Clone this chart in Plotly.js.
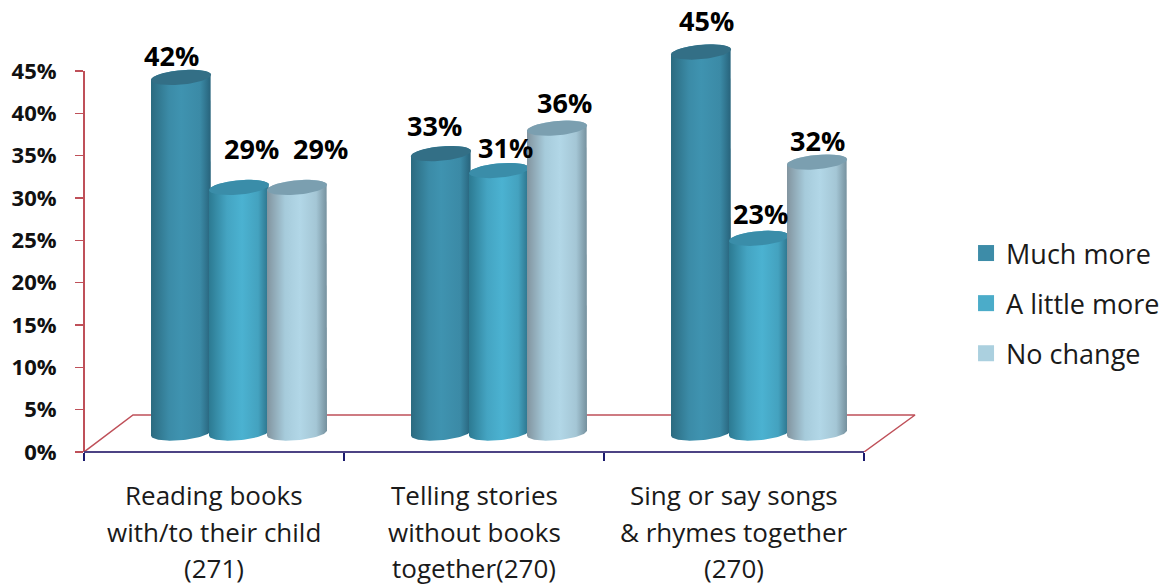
<!DOCTYPE html>
<html>
<head>
<meta charset="utf-8">
<script src="https://cdn.plot.ly/plotly-3.0.1.min.js"></script>
<style>html,body{margin:0;padding:0;background:#fff}</style>
</head>
<body>
<div id="chart" style="width:1171px;height:585px"></div>
<script>
// Reported change in shared literacy activities, by activity.
const categoryLines = [
  ["Reading books", "with/to their child", "(271)"],
  ["Telling stories", "without books", "together(270)"],
  ["Sing or say songs", "& rhymes together", "(270)"]
];
const seriesNames = ["Much more", "A little more", "No change"];
const muchMore = [42, 33, 45];
const aLittleMore = [29, 31, 23];
const noChange = [29, 36, 32];
const yTicks = [0, 5, 10, 15, 20, 25, 30, 35, 40, 45];

// Per-label nudges in pixels: the value labels sit by hand around the columns.
const labelNudgeX = [[-10, -7, 5], [12, 6, 1], [23, 7, 0]];
const labelNudgeY = [[21, 27, 31], [38, 22, 24], [38, 25, 21]];

const allSeries = [muchMore, aLittleMore, noChange];
const PX_X = 1 / 260;           // axis units per pixel, x
const PX_Y = 45 / 381;          // axis units per pixel, y
const depthX = 49 * PX_X;       // floor depth
const depthY = 37 * PX_Y;
const floorRight = 3 + 51 * PX_X;
const baseY = 19 * PX_Y;        // column feet stand mid-way across the floor
const halfW = 30 * PX_X;
const firstCx = 97 * PX_X;      // first column centre, relative to its category
const stepCx = 58 * PX_X;
const radiusY = 7.2 * PX_Y;
const tiltY = 2.6 * PX_Y;

const red = "#bf5059";
const labelFont = "'Open Sans', Lato, sans-serif";

const styles = [
  { swatch: "#3d8ca8", top: "#336f86",
    ramp: [[0, "#2b6b80"], [0.3, "#3b8ba7"], [0.5, "#3f93b0"], [0.82, "#3b8aa6"], [1, "#27627a"]] },
  { swatch: "#4bacc9", top: "#3a8da9",
    ramp: [[0, "#2c7a92"], [0.3, "#44a4c2"], [0.55, "#4bb2d1"], [0.82, "#44a2bf"], [1, "#2b7088"]] },
  { swatch: "#abd0df", top: "#7b9fb0",
    ramp: [[0, "#82949f"], [0.3, "#a6cbdb"], [0.55, "#b2d7e7"], [0.82, "#a4c6d5"], [1, "#75909d"]] }
];

// Point on the tilted ellipse that forms a column's cap or foot.
function rim(cx, cy, t) {
  return [cx + halfW * Math.cos(t), cy + radiusY * Math.sin(t) + tiltY * Math.cos(t)];
}
function arc(cx, cy, from, to, n) {
  const xs = [], ys = [];
  for (let i = 0; i <= n; i++) {
    const p = rim(cx, cy, from + (to - from) * i / n);
    xs.push(p[0]); ys.push(p[1]);
  }
  return [xs, ys];
}

const traces = [{
  x: [0, depthX, floorRight, 3],
  y: [0, depthY, depthY, 0],
  mode: "lines", line: { color: red, width: 1.5 },
  showlegend: false, hoverinfo: "skip"
}];

const annotations = [];

categoryLines.forEach((lines, c) => {
  allSeries.forEach((values, s) => {
    const cx = c + firstCx + s * stepCx;
    const top = baseY + values[c];
    const st = styles[s];
    // column body: around the lower half of the foot, then back over the cap
    const foot = arc(cx, baseY, Math.PI, 2 * Math.PI, 40);
    const topEdge = arc(cx, top, 0, Math.PI, 40);
    traces.push({
      x: foot[0].concat(topEdge[0]), y: foot[1].concat(topEdge[1]),
      mode: "lines", line: { width: 0, color: st.swatch },
      fill: "toself",
      fillgradient: { type: "horizontal", colorscale: st.ramp },
      showlegend: false, hoverinfo: "skip"
    });
    const cap = arc(cx, top, 0, 2 * Math.PI, 60);
    traces.push({
      x: cap[0], y: cap[1],
      mode: "lines", line: { width: 0, color: st.top },
      fill: "toself", fillcolor: st.top,
      showlegend: false, hoverinfo: "skip"
    });
    annotations.push({
      xref: "x", yref: "y", x: cx, y: top,
      text: "<b>" + values[c] + "%</b>", showarrow: false,
      xshift: labelNudgeX[s][c], yshift: labelNudgeY[s][c] + 1,
      font: { family: labelFont, size: 27, color: "#000" }
    });
  });
  lines.forEach((line, i) => {
    annotations.push({
      xref: "x", yref: "paper", x: c + 0.5, y: 0, yanchor: "middle",
      yshift: -43 - 36.5 * i, text: line, showarrow: false,
      font: { family: labelFont, size: 26, color: "#1a1a1a" }
    });
  });
});

// Legend entries use square markers at a fixed size.
seriesNames.forEach((name, s) => {
  traces.push({
    x: [null], y: [null], name: name, mode: "markers",
    legendgroup: name,
    marker: { symbol: "square", size: 16, color: styles[s].swatch },
    hoverinfo: "skip"
  });
});

// The plot area runs past the axis ends so columns and floor are not cut off;
// the axis lines themselves stop at 45% and at the last category.
const layout = {
  width: 1171, height: 585,
  margin: { l: 84, r: 241, t: 10, b: 133, pad: 0, autoexpand: false },
  paper_bgcolor: "#fff", plot_bgcolor: "#fff",
  showlegend: true,
  legend: {
    x: 1.0426, xanchor: "left", y: 0.336, yanchor: "middle",
    traceorder: "grouped", tracegroupgap: 12, itemwidth: 30,
    font: { family: labelFont, size: 27, color: "#1a1a1a" },
    bgcolor: "rgba(0,0,0,0)"
  },
  xaxis: {
    range: [0, 846 / 260], showgrid: false, zeroline: false, fixedrange: true,
    showline: false,
    tickmode: "array", tickvals: [0, 1, 2, 3], ticktext: ["", "", "", ""],
    ticks: "outside", ticklen: 8, tickwidth: 2, tickcolor: "#1a1a6e"
  },
  yaxis: {
    range: [0, 442 * 45 / 381], showgrid: false, zeroline: false, fixedrange: true,
    showline: false,
    tickmode: "array", tickvals: yTicks, ticktext: yTicks.map(v => v + "%"),
    ticks: "outside", ticklen: 8, tickwidth: 1.5, tickcolor: red,
    ticklabelstandoff: 14,
    tickfont: { family: labelFont, size: 22, weight: 700, color: "#111" }
  },
  shapes: [
    { type: "line", xref: "paper", yref: "y", x0: 0, x1: 0, y0: 0, y1: 45,
      line: { color: red, width: 2 }, layer: "above" },
    { type: "line", xref: "x", yref: "paper", x0: 0, x1: 3, y0: 0, y1: 0,
      line: { color: "#4c4384", width: 2 }, layer: "above" }
  ],
  annotations: annotations
};

Plotly.newPlot("chart", traces, layout, { displayModeBar: false, staticPlot: true });
</script>
</body>
</html>
